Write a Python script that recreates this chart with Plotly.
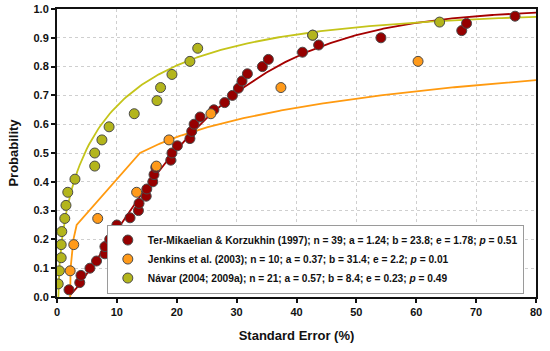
import numpy as np
import plotly.graph_objects as go

# ---------------- data ----------------
ter_x = [2.0, 3.8, 4.0, 5.5, 6.6, 8.0, 8.0, 8.8, 9.5, 10.0, 12.2, 13.6, 13.7, 14.9, 15.0,
         16.0, 16.2, 16.5, 19.0, 19.2, 20.1, 22.2, 22.5, 22.9, 23.9, 26.2, 28.0, 29.3,
         30.3, 30.9, 31.8, 34.3, 35.3, 41.0, 43.7, 54.1, 67.6, 68.4, 76.5]
ter_p = [i / 40 for i in range(1, 40)]

jen_x = [2.2, 2.8, 6.8, 13.3, 16.6, 18.7, 25.7, 37.4, 60.3, 42.7]
jen_p = [i / 11 for i in range(1, 11)]

nav_x = [0.2, 0.4, 0.7, 0.7, 0.8, 1.3, 1.5, 1.8, 3.0, 6.3, 6.3, 7.5, 8.7, 12.9, 16.7,
         17.3, 19.2, 22.2, 23.5, 42.7, 63.9]
nav_p = [i / 22 for i in range(1, 22)]

# fitted 3-parameter Weibull parameters (a = shape, b = scale, e = location)
ter_fit = dict(a=1.24, b=23.8, e=1.78)
jen_fit = dict(a=0.37, b=31.4, e=2.2)
nav_fit = dict(a=0.57, b=8.4, e=0.23)

# where each fitted curve was evaluated
ter_curve_start = 2.2
nav_curve_start = 0.23
jen_knots_p = [0.0, 0.1, 0.2, 0.25, 0.5]   # coarse quantile knots, then dense

names = [
    "Ter-Mikaelian & Korzukhin (1997); n = 39; a = 1.24; b = 23.8; e = 1.78; <i>p</i> = 0.51",
    "Jenkins et al. (2003); n = 10; a = 0.37; b = 31.4; e = 2.2; <i>p</i> = 0.01",
    "Návar (2004; 2009a); n = 21; a = 0.57; b = 8.4; e = 0.23; <i>p</i> = 0.49",
]

x_ticks = [0, 10, 20, 30, 40, 50, 60, 70, 80]
y_ticks = [0.0, 0.1, 0.2, 0.3, 0.4, 0.5, 0.6, 0.7, 0.8, 0.9, 1.0]

marker_fill = ["#960000", "#FF9A1A", "#B3B51C"]
line_col = ["#A50000", "#FF9A10", "#C4C41A"]


def cdf(x, a, b, e):
    x = np.asarray(x, float)
    return 1 - np.exp(-(np.clip(x - e, 0, None) / b) ** a)


def quant(p, a, b, e):
    p = np.asarray(p, float)
    return e + b * (-np.log(1 - p)) ** (1 / a)


X_MAX = 80
ter_cx = np.linspace(ter_curve_start, X_MAX, 300)
ter_cy = cdf(ter_cx, **ter_fit)

nav_cx = np.concatenate([np.linspace(nav_curve_start, 3, 120), np.linspace(3, X_MAX, 200)[1:]])
nav_cy = cdf(nav_cx, **nav_fit)

jk_x = quant(jen_knots_p, **jen_fit)
jd_x = np.linspace(jk_x[-1], X_MAX, 200)[1:]
jen_cx = np.concatenate([jk_x, jd_x])
jen_cy = np.concatenate([np.array(jen_knots_p), cdf(jd_x, **jen_fit)])

fig = go.Figure()

for cx, cy, col in [(ter_cx, ter_cy, line_col[0]), (jen_cx, jen_cy, line_col[1]),
                    (nav_cx, nav_cy, line_col[2])]:
    fig.add_trace(go.Scatter(x=cx, y=cy, mode="lines", line=dict(color=col, width=1.8),
                             showlegend=False, hoverinfo="skip"))

for xs, ps, nm, fc in [(ter_x, ter_p, names[0], marker_fill[0]),
                       (jen_x, jen_p, names[1], marker_fill[1]),
                       (nav_x, nav_p, names[2], marker_fill[2])]:
    fig.add_trace(go.Scatter(x=xs, y=ps, mode="markers", name=nm,
                             marker=dict(size=10, color=fc,
                                         line=dict(color="#4a4a4a", width=1))))

FONT = "Arial, 'Liberation Sans', sans-serif"
axis_common = dict(
    showline=True, linecolor="#111111", linewidth=2, mirror=True,
    showgrid=True, gridcolor="#cfcfcf", gridwidth=1, griddash="dot",
    zeroline=False, ticks="outside", ticklen=4, tickcolor="#111111", tickwidth=1.5,
    tickfont=dict(family=FONT, size=11, color="#111111", weight="bold"),
    automargin=False,
)

fig.update_xaxes(range=[0, X_MAX], tickvals=x_ticks,
                 title=dict(text="<b>Standard Error (%)</b>",
                            font=dict(family=FONT, size=13, color="#111111"), standoff=14),
                 **axis_common)
fig.update_yaxes(range=[0, 1.0], tickvals=y_ticks, tickformat=".1f",
                 title=dict(text="<b>Probability</b>",
                            font=dict(family=FONT, size=13, color="#111111"), standoff=12),
                 **axis_common)

fig.update_layout(
    width=550, height=351,
    margin=dict(l=57, r=14, t=9, b=54),
    paper_bgcolor="white", plot_bgcolor="white",
    font=dict(family=FONT),
    legend=dict(x=0.104, y=0.012, xanchor="left", yanchor="bottom",
                bgcolor="white", bordercolor="#9a9a9a", borderwidth=1,
                font=dict(family=FONT, size=10.2, color="#111111", weight="bold"),
                tracegroupgap=0),
)

fig.write_html("out.html", post_script="document.body.style.margin='0px';",
               config={"displayModeBar": False})
